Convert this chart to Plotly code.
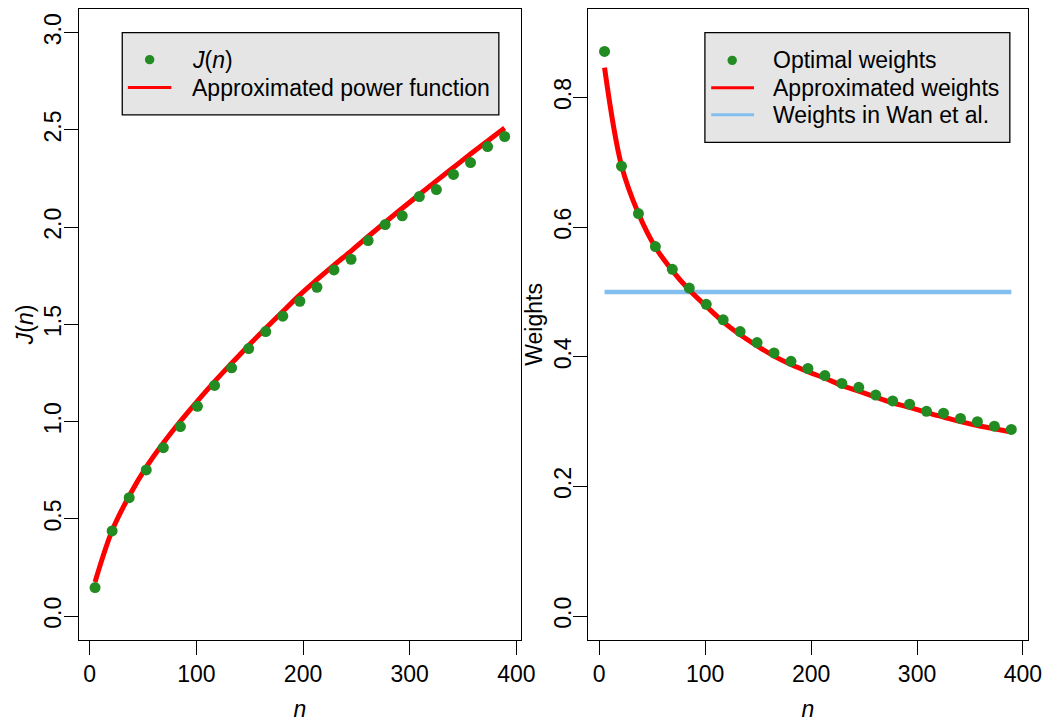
import plotly.graph_objects as go

# ---------------- data ----------------
n_vals = [5, 21, 37, 53, 69, 85, 101, 117, 133, 149, 165, 181, 197,
          213, 229, 245, 261, 277, 293, 309, 325, 341, 357, 373, 389]

J_points = [0.147, 0.438, 0.609, 0.752, 0.866, 0.975, 1.079, 1.186, 1.277,
            1.376, 1.463, 1.542, 1.619, 1.691, 1.780, 1.835, 1.931, 2.013,
            2.058, 2.157, 2.193, 2.271, 2.332, 2.414, 2.466]

J_approx = [0.176, 0.440, 0.618, 0.766, 0.890, 1.002, 1.106, 1.206, 1.300,
            1.392, 1.480, 1.566, 1.652, 1.730, 1.805, 1.877, 1.952, 2.025,
            2.097, 2.168, 2.238, 2.307, 2.376, 2.443, 2.510]

w_points = [0.871, 0.694, 0.621, 0.570, 0.535, 0.506, 0.481, 0.457, 0.439,
            0.422, 0.406, 0.393, 0.382, 0.371, 0.359, 0.353, 0.341, 0.332,
            0.327, 0.316, 0.313, 0.305, 0.300, 0.293, 0.288]

w_approx = [0.846, 0.695, 0.621, 0.569, 0.533, 0.503, 0.478, 0.454, 0.434,
            0.417, 0.401, 0.388, 0.377, 0.367, 0.356, 0.347, 0.338, 0.329,
            0.322, 0.314, 0.307, 0.300, 0.294, 0.289, 0.284]

wan_n = [5, 389]
wan_w = [0.5, 0.5]

x_ticks = [0, 100, 200, 300, 400]
y1_ticks = [0.0, 0.5, 1.0, 1.5, 2.0, 2.5, 3.0]
y1_ticklabels = ["0.0", "0.5", "1.0", "1.5", "2.0", "2.5", "3.0"]
y2_ticks = [0.0, 0.2, 0.4, 0.6, 0.8]
y2_ticklabels = ["0.0", "0.2", "0.4", "0.6", "0.8"]

legend1_labels = ["<i>J</i>(<i>n</i>)", "Approximated power function"]
legend2_labels = ["Optimal weights", "Approximated weights", "Weights in Wan et al."]

# ---------------- style ----------------
W, H = 1062, 722
GREEN = "#228B22"
RED = "#FF0000"
BLUE = "#82BFEE"
LEG_BG = "#E5E5E5"
FONT = "Liberation Sans, Arial, Helvetica, sans-serif"
FS = 23


def px(x):
    return x / W


def py(y):
    return 1 - y / H


fig = go.Figure()

# left panel
fig.add_trace(go.Scatter(x=n_vals, y=J_approx, mode="lines",
                         line=dict(color=RED, width=5, shape="spline"),
                         xaxis="x", yaxis="y", showlegend=False,
                         name="Approximated power function"))
fig.add_trace(go.Scatter(x=n_vals, y=J_points, mode="markers",
                         marker=dict(color=GREEN, size=11),
                         xaxis="x", yaxis="y", showlegend=False, name="J(n)"))

# right panel
fig.add_trace(go.Scatter(x=wan_n, y=wan_w, mode="lines",
                         line=dict(color=BLUE, width=4.5),
                         xaxis="x2", yaxis="y2", showlegend=False,
                         name="Weights in Wan et al."))
fig.add_trace(go.Scatter(x=n_vals, y=w_approx, mode="lines",
                         line=dict(color=RED, width=5, shape="spline"),
                         xaxis="x2", yaxis="y2", showlegend=False,
                         name="Approximated weights"))
fig.add_trace(go.Scatter(x=n_vals, y=w_points, mode="markers",
                         marker=dict(color=GREEN, size=11),
                         xaxis="x2", yaxis="y2", showlegend=False,
                         name="Optimal weights"))

axis_common = dict(showline=True, linecolor="black", linewidth=1.3, mirror=True,
                   ticks="outside", ticklen=14, tickwidth=1.3, tickcolor="black",
                   showgrid=False, zeroline=False,
                   tickfont=dict(family=FONT, size=FS, color="black"))

y_top, y_bot = 9.5, 654
L1, R1 = 79.8, 528.5
L2, R2 = 596.7, 1042.3
fig.update_layout(
    width=W, height=H, autosize=False,
    margin=dict(l=0, r=0, t=0, b=0),
    paper_bgcolor="white", plot_bgcolor="white",
    font=dict(family=FONT, size=FS, color="black"),
    xaxis=dict(domain=[px(L1), px(R1)], range=[-10.36, 404.36],
               tickvals=x_ticks, anchor="y",
               title=dict(text="<i>n</i>", standoff=19, font=dict(size=FS)),
               **axis_common),
    yaxis=dict(domain=[py(y_bot), py(y_top)], range=[-0.12, 3.12],
               tickvals=y1_ticks, ticktext=y1_ticklabels, tickangle=-90,
               ticklabelstandoff=-7, anchor="x",
               title=dict(text="<i>J</i>(<i>n</i>)", standoff=0, font=dict(size=FS)),
               **axis_common),
    xaxis2=dict(domain=[px(L2), px(R2)], range=[-10.36, 404.36],
                tickvals=x_ticks, anchor="y2",
                title=dict(text="<i>n</i>", standoff=19, font=dict(size=FS)),
                **axis_common),
    yaxis2=dict(domain=[py(y_bot), py(y_top)], range=[-0.036, 0.936],
                tickvals=y2_ticks, ticktext=y2_ticklabels, tickangle=-90,
                ticklabelstandoff=-7, anchor="x2",
                title=dict(text="Weights", standoff=0, font=dict(size=FS)),
                **axis_common),
)

# ---------------- manual legends (R-style boxes) ----------------
shapes = []
annotations = []


def legend_box(x0, x1, y0, y1):
    shapes.append(dict(type="rect", xref="paper", yref="paper",
                       x0=px(x0), x1=px(x1), y0=py(y1), y1=py(y0),
                       fillcolor=LEG_BG, line=dict(color="black", width=1.3),
                       layer="above"))


def legend_dot(xc, yc, r=4.8):
    shapes.append(dict(type="circle", xref="paper", yref="paper",
                       x0=px(xc - r), x1=px(xc + r), y0=py(yc + r), y1=py(yc - r),
                       fillcolor=GREEN, line=dict(color=GREEN, width=0),
                       layer="above"))


def legend_line(xa, xb, yc, color):
    shapes.append(dict(type="line", xref="paper", yref="paper",
                       x0=px(xa), x1=px(xb), y0=py(yc), y1=py(yc),
                       line=dict(color=color, width=3), layer="above"))


def legend_text(x, yc, text):
    annotations.append(dict(xref="paper", yref="paper", x=px(x), y=py(yc),
                            text=text, showarrow=False, xanchor="left",
                            yanchor="middle",
                            font=dict(family=FONT, size=FS, color="black")))


# left legend
legend_box(124, 506, 33.3, 117.5)
legend_dot(151.8, 61)
legend_line(129.7, 173.8, 89.5, RED)
legend_text(192.5, 61, legend1_labels[0])
legend_text(192.5, 89.5, legend1_labels[1])

# right legend
legend_box(715, 1024.3, 33.3, 145.7)
legend_dot(742.7, 61.7)
legend_line(721.4, 764.8, 89.7, RED)
legend_line(721.4, 764.8, 117.3, BLUE)
legend_text(782.5, 61.7, legend2_labels[0])
legend_text(782.5, 89.7, legend2_labels[1])
legend_text(782.5, 117.3, legend2_labels[2])

fig.update_layout(shapes=shapes, annotations=annotations)

fig.write_html("out.html", config={"displayModeBar": False},
               post_script="document.body.style.margin='0';"
                           "document.body.style.overflow='hidden';"
                           "document.documentElement.style.overflow='hidden';")
